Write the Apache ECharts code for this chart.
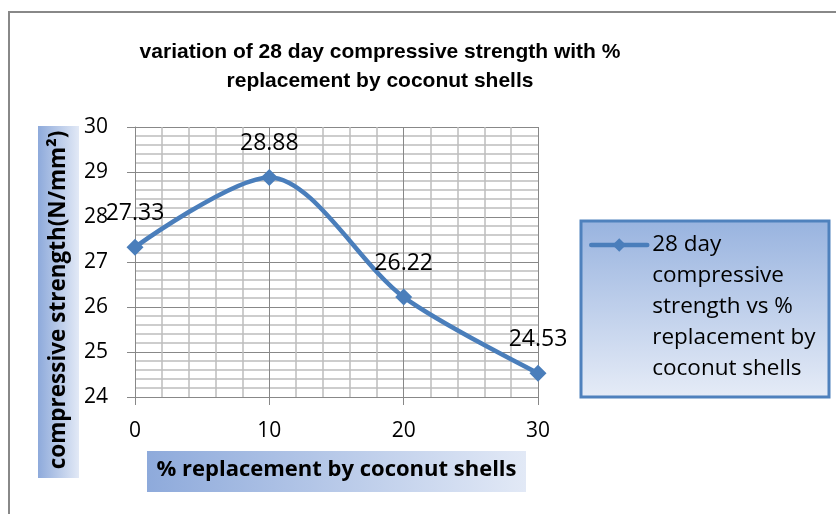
<!DOCTYPE html>
<html>
<head>
<meta charset="utf-8">
<script src="https://cdn.jsdelivr.net/npm/echarts@6/dist/echarts.min.js"></script>
<style>html,body{margin:0;padding:0;background:#fff;}#c{width:836px;height:514px;}</style>
</head>
<body>
<div id="c"></div>
<script>
const replacement = [0, 10, 20, 30];
const strength = [27.33, 28.88, 26.22, 24.53];
const seriesName = '28 day compressive strength vs % replacement by coconut shells';
const legendLines = ['28 day', 'compressive', 'strength vs %', 'replacement by', 'coconut shells'];
const titleText = 'variation of 28 day compressive strength with %\nreplacement by coconut shells';
const xTitle = '% replacement by coconut shells';
const yTitle = 'compressive strength(N/mm²)';

const chart = echarts.init(document.getElementById('c'));
const body = '"Open Sans", Lato, sans-serif';
const gradH = new echarts.graphic.LinearGradient(0, 0, 1, 0, [{offset:0,color:'#8eaadb'},{offset:1,color:'#e2e9f6'}]);
const gradH2 = new echarts.graphic.LinearGradient(0, 0, 1, 0, [{offset:0,color:'#8eaadb'},{offset:1,color:'#e2e9f6'}]);
const gradV = new echarts.graphic.LinearGradient(0, 0, 0, 1, [{offset:0,color:'#98b3df'},{offset:1,color:'#e6ecf7'}]);

chart.setOption({
  animation: false,
  backgroundColor: '#fff',
  title: {
    text: titleText,
    left: 375, top: 33, textAlign: 'center',
    textStyle: {fontFamily: '"Liberation Sans", Arial, sans-serif', fontWeight: 'bold', fontSize: 21, lineHeight: 29, color: '#000'}
  },
  graphic: [
    {type: 'rect', z: -10, shape: {x: 9, y: 12, width: 900, height: 600}, style: {fill: 'none', stroke: '#888', lineWidth: 2}},
    {type: 'rect', z: -5, shape: {x: 147, y: 451, width: 379, height: 41}, style: {fill: gradH}},
    {type: 'rect', z: -5, shape: {x: 38, y: 126, width: 41, height: 352}, style: {fill: gradH2}},
    {type: 'rect', z: -5, shape: {x: 581, y: 221, width: 248, height: 176}, style: {fill: gradV, stroke: '#4f81bd', lineWidth: 3}}
  ],
  legend: {
    left: 589, top: 245 - 4.5 * 31, padding: 0,
    orient: 'vertical',
    itemWidth: 56, itemHeight: 17, itemGap: 0,
    formatter: function(){ return '\n\n\n\n' + legendLines.join('\n'); },
    textStyle: {fontFamily: body, fontSize: 22.5, lineHeight: 31, color: '#000'},
    lineStyle: {width: 4.5, color: '#4a7ebb', cap: 'round'},
    data: [seriesName]
  },
  grid: {left: 135, right: 298, top: 127, bottom: 117},
  xAxis: {
    type: 'value', min: 0, max: 30, interval: 10,
    name: xTitle, nameLocation: 'middle', nameGap: 62,
    nameTextStyle: {fontFamily: body, fontWeight: 'bold', fontSize: 22, color: '#000'},
    axisLine: {show: true, lineStyle: {color: '#888', width: 1}},
    axisTick: {show: true, length: 8, lineStyle: {color: '#888'}},
    axisLabel: {fontFamily: body, fontSize: 21, color: '#000', margin: 24},
    splitLine: {show: true, lineStyle: {color: '#888', width: 1}},
    minorTick: {show: false, splitNumber: 5},
    minorSplitLine: {show: true, lineStyle: {color: '#bdbdbd', width: 1.5}}
  },
  yAxis: {
    type: 'value', min: 24, max: 30, interval: 1,
    name: yTitle, nameLocation: 'middle', nameGap: 65, nameRotate: 90,
    nameTextStyle: {fontFamily: body, fontWeight: 'bold', fontSize: 22.5, color: '#000', padding: [0, 76, 0, 0]},
    axisLine: {show: true, lineStyle: {color: '#888', width: 1}},
    axisTick: {show: true, length: 8, lineStyle: {color: '#888'}},
    axisLabel: {fontFamily: body, fontSize: 21, color: '#000', margin: 27},
    splitLine: {show: true, lineStyle: {color: '#888', width: 1}},
    minorTick: {show: false, splitNumber: 5},
    minorSplitLine: {show: true, lineStyle: {color: '#bdbdbd', width: 1.5}}
  },
  series: [{
    name: seriesName,
    type: 'line',
    smooth: 0.3,
    data: replacement.map((x, i) => [x, strength[i]]),
    symbol: 'diamond', symbolSize: 17,
    lineStyle: {color: '#4a7ebb', width: 4.5, cap: 'round'},
    itemStyle: {color: '#4a7ebb'},
    label: {show: true, position: 'top', distance: 14, fontFamily: body, fontSize: 23, color: '#000',
      formatter: p => p.value[1].toFixed(2)}
  }]
});
</script>
</body>
</html>
